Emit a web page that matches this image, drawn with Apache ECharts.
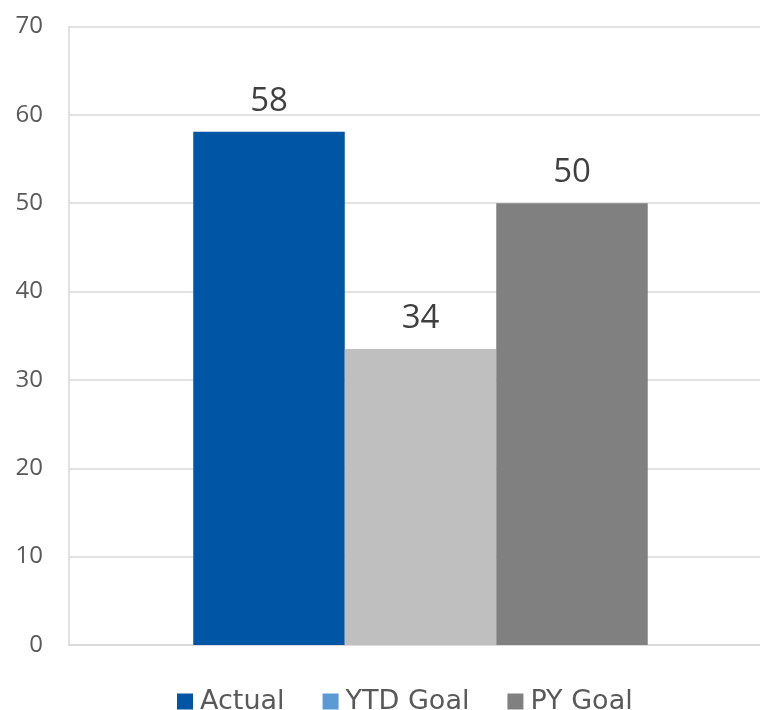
<!DOCTYPE html>
<html>
<head>
<meta charset="utf-8">
<script src="https://cdn.jsdelivr.net/npm/echarts@6/dist/echarts.min.js"></script>
<style>
html,body{margin:0;padding:0;background:#fff;overflow:hidden;width:760px;height:710px;}
#chart{width:772px;height:710px;}
</style>
</head>
<body>
<div id="chart"></div>
<script>
const categories = [''];
const seriesNames = ['Actual', 'YTD Goal', 'PY Goal'];
const actualValues = [58.1];
const ytdGoalValues = [33.5];
const pyGoalValues = [50];
const yTicks = [0, 10, 20, 30, 40, 50, 60, 70];

const barColors = ['#0055A4', '#BFBFBF', '#808080'];
const legendColors = ['#0055A4', '#5B9BD5', '#808080'];
const valueSets = [actualValues, ytdGoalValues, pyGoalValues];

const chart = echarts.init(document.getElementById('chart'));
const font = 'Open Sans, Lato, sans-serif';

chart.setOption({
  animation: false,
  textStyle: { fontFamily: font },
  grid: { left: 69, right: 0, top: 26.5, bottom: 65 },
  legend: {
    bottom: -5,
    left: 177,
    padding: 0,
    icon: 'rect',
    itemWidth: 16,
    itemHeight: 16,
    itemGap: 38,
    textStyle: { fontSize: 27, color: '#595959', fontFamily: 'DejaVu Sans, sans-serif', padding: [0, 0, 0, 2] },
    data: seriesNames.map((n, i) => ({ name: n, itemStyle: { color: legendColors[i] } }))
  },
  xAxis: {
    type: 'category',
    data: categories,
    axisLine: { lineStyle: { color: '#D9D9D9', width: 1.5 } },
    axisTick: { show: false },
    axisLabel: { show: false }
  },
  yAxis: {
    type: 'value',
    min: yTicks[0],
    max: yTicks[yTicks.length - 1],
    interval: 10,
    axisLine: { show: true, lineStyle: { color: '#D9D9D9', width: 1.5 } },
    axisTick: { show: false },
    splitLine: { lineStyle: { color: '#D9D9D9', width: 1.5 } },
    axisLabel: { fontSize: 24, color: '#595959', margin: 26, fontFamily: font }
  },
  series: seriesNames.map((n, i) => ({
    name: n,
    type: 'bar',
    data: valueSets[i],
    barWidth: 151.5,
    barGap: '0%',
    itemStyle: { color: barColors[i] },
    label: {
      show: true,
      position: 'top',
      distance: 14,
      fontSize: 33,
      color: '#404040',
      fontFamily: font,
      formatter: p => String(Math.round(p.value))
    }
  }))
});
</script>
</body>
</html>
